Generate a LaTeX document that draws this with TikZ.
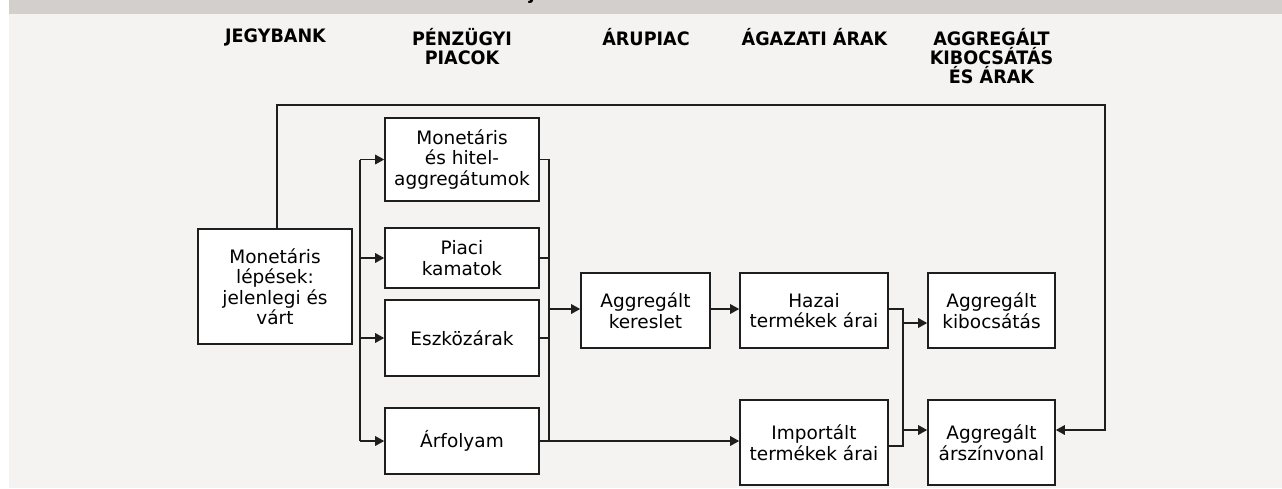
\documentclass[tikz,border=0pt]{standalone}
\usepackage{fontspec}
\setmainfont{DejaVu Sans}
\newfontfamily\headfont[FakeStretch=0.95]{DejaVu Sans}
\usetikzlibrary{arrows.meta}
\definecolor{pagebg}{HTML}{F4F3F1}
\definecolor{barbg}{HTML}{D3CFCB}
\definecolor{ink}{HTML}{1E1E1E}
\tikzset{
  stagebox/.style={draw=ink, line width=1.6pt, fill=white, align=center,
    inner sep=0pt, text=black,
    font=\fontsize{18.5}{20.5}\selectfont},
  heading/.style={align=center, inner sep=0pt, anchor=base, text=black,
    font=\headfont\bfseries\fontsize{18.5}{19}\selectfont},
  link/.style={draw=ink, line width=1.6pt},
  flow/.style={link, -{Triangle[length=9pt,width=9.5pt]}}
}
\begin{document}
\begin{tikzpicture}[x=1pt,y=-1pt]
% page background and header strip
\fill[white] (0,0) rectangle (1282,488);
\fill[pagebg] (9,0) rectangle (1282,488);
\fill[barbg] (9,0) rectangle (1282,14);
\useasboundingbox (0,0) rectangle (1282,488);
\begin{scope}
  \clip (9,0) rectangle (1282,14);
  \node[heading] (titletail) at (532,-1) {j};
\end{scope}

% column headings (base anchor sits on the last line)
\node[heading] (h1) at (275.5,42) {JEGYBANK};
\node[heading] (h2) at (462,64) {PÉNZÜGYI\\PIACOK};
\node[heading] (h3) at (646,45) {ÁRUPIAC};
\node[heading] (h4) at (814.5,45) {ÁGAZATI ÁRAK};
\node[heading] (h5) at (991.5,83) {AGGREGÁLT\\KIBOCSÁTÁS\\ÉS ÁRAK};

% boxes
\node[stagebox, minimum width=154pt, minimum height=115pt] (ml) at (275,286.5)
  {Monetáris\\lépések:\\jelenlegi és\\várt};
\node[stagebox, minimum width=154pt, minimum height=83pt] (mha) at (462,159.5)
  {Monetáris\\és hitel-\\aggregátumok};
\node[stagebox, minimum width=154pt, minimum height=60pt] (pk) at (462,258)
  {Piaci\\kamatok};
\node[stagebox, minimum width=154pt, minimum height=76pt] (esz) at (462,338)
  {Eszközárak};
\node[stagebox, minimum width=154pt, minimum height=66pt] (arf) at (462,441)
  {Árfolyam};
\node[stagebox, minimum width=129pt, minimum height=75pt] (ak) at (645.5,310.5)
  {Aggregált\\kereslet};
\node[stagebox, minimum width=148pt, minimum height=75pt] (hazai) at (814,310.5)
  {Hazai\\termékek árai};
\node[stagebox, minimum width=148pt, minimum height=85pt] (imp) at (814,442.5)
  {Importált\\termékek árai};
\node[stagebox, minimum width=127pt, minimum height=75pt] (akib) at (991.5,310.5)
  {Aggregált\\kibocsátás};
\node[stagebox, minimum width=127pt, minimum height=85pt] (aars) at (991.5,442.5)
  {Aggregált\\árszínvonal};

% bus lines and junction points
\coordinate (lb) at (360,300);
\coordinate (rb) at (549,300);
\coordinate (pb) at (903,300);
\coordinate (topL) at (277,105);
\coordinate (topR) at (1105,105);
\coordinate (akIn) at ([yshift=1.5pt]ak.west);
\coordinate (akOut) at ([yshift=1.5pt]ak.east);
\coordinate (hzIn) at ([yshift=1.5pt]hazai.west);
\coordinate (hzOut) at ([yshift=1.5pt]hazai.east);
\coordinate (impOut) at ([yshift=-3.5pt]imp.east);
\coordinate (kibIn) at ([yshift=-12.5pt]akib.west);
\coordinate (arsIn) at ([yshift=12.5pt]aars.west);
\coordinate (arsBack) at ([yshift=12.5pt]aars.east);
\coordinate (mlTop) at ([xshift=2pt]ml.north);

% central bank to financial markets
\draw[link] (lb |- mha.west) -- (lb |- arf.west);
\draw[flow] (lb |- mha.west) -- (mha.west);
\draw[flow] (lb |- pk.west) -- (pk.west);
\draw[flow] (lb |- esz.west) -- (esz.west);
\draw[flow] (lb |- arf.west) -- (arf.west);

% financial markets to aggregate demand
\draw[link] (mha.east) -- (rb |- mha.east) -- (rb |- arf.east);
\draw[link] (pk.east) -- (rb |- pk.east);
\draw[link] (esz.east) -- (rb |- esz.east);
\draw[flow] (rb |- akIn) -- (akIn);
\draw[flow] (arf.east) -- (arf.east -| imp.west);
\draw[flow] (akOut) -- (hzIn);

% sector prices to aggregate output and prices
\draw[link] (hzOut) -- (pb |- hzOut) -- (pb |- impOut) -- (impOut);
\draw[flow] (pb |- kibIn) -- (kibIn);
\draw[flow] (pb |- arsIn) -- (arsIn);

% direct effect on the price level
\draw[flow] (mlTop) -- (topL) -- (topR) -- (topR |- arsBack) -- (arsBack);
\end{tikzpicture}
\end{document}
